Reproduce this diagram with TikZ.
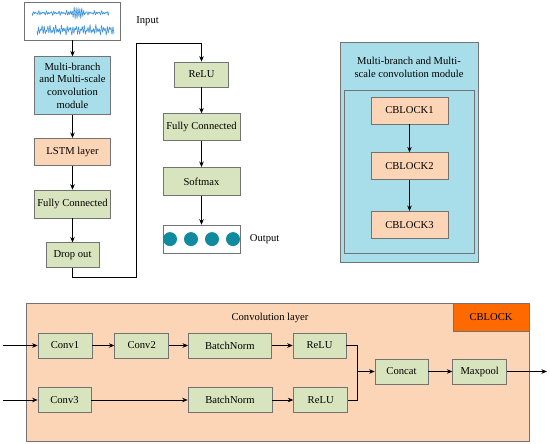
\documentclass[tikz,border=0pt]{standalone}
\usepackage{fontspec}
\setmainfont{Liberation Serif}
\usepackage{xcolor}
\definecolor{ModBlue}{HTML}{A8DEEA}
\definecolor{BlockPeach}{HTML}{FBD5B5}
\definecolor{LayerGreen}{HTML}{D7E4BD}
\definecolor{TagOrange}{HTML}{FF6A00}
\definecolor{DotTeal}{HTML}{0F8A9E}
\definecolor{WaveBlue}{HTML}{3A90D8}
\usepackage{tikz}
\usetikzlibrary{arrows.meta, positioning}

\begin{document}
\begin{tikzpicture}[
  x=1pt, y=-1pt,
  font=\fontsize{10.6}{12.8}\selectfont,
  box/.style={
    rectangle, draw=black!55, line width=0.7pt,
    inner sep=1pt, align=center
  },
  gbox/.style={box, fill=LayerGreen, minimum height=25pt},
  pbox/.style={box, fill=BlockPeach, minimum height=27pt},
  arr/.style={-{Stealth[length=5.5pt, width=4.5pt]}, line width=0.7pt},
  wire/.style={line width=0.7pt},
  wave/.style={WaveBlue, line width=0.55pt},
]
\useasboundingbox (0,0) rectangle (550,444);

% main column
\node[box, minimum width=96pt, minimum height=38pt] (input) at (72.5,21) {};
\node[box, fill=ModBlue, minimum width=76pt, minimum height=58pt,
      below=16pt of input] (mbm)
      {Multi-branch\\ and Multi-scale\\ convolution\\ module};
\node[pbox, minimum width=76pt, below=23pt of mbm]  (lstm) {LSTM layer};
\node[gbox, minimum width=76pt, minimum height=28pt,
      below=24pt of lstm] (fc1)  {Fully Connected};
\node[gbox, minimum width=53pt, below=24pt of fc1]  (drop) {Drop out};
\node[right=12pt of input] (inlbl) {Input};

\draw[wave] plot[domain=0:10, samples=320]
  ({32+7.7*\x}, {13 + 1.0*sin(1500*\x) + 0.8*sin(1100*\x+30) + 0.6*sin(700*\x+10)
   + 4.5*sin(1430*\x)/(1+4*(\x-6)*(\x-6)*(\x-6)*(\x-6))});
\draw[wave] plot[domain=0:10, samples=320]
  ({37+7.7*\x}, {30 + 2.4*sin(1450*\x) + 1.8*sin(970*\x+50) + 1.2*sin(410*\x)});

\node[gbox, minimum width=54pt] (relu) at (201.5,74.5) {ReLU};
\node[gbox, minimum width=77pt, minimum height=27pt,
      below=26pt of relu] (fc2)  {Fully Connected};
\node[gbox, minimum width=77pt, minimum height=28pt,
      below=26pt of fc2]  (soft) {Softmax};
\node[box, minimum width=77pt, minimum height=28pt,
      below=29pt of soft] (outp) {};
\node[right=6pt of outp] (outlbl) {Output};
\foreach \dx in {-31.5,-10.5,10.5,31.5}
  \fill[DotTeal] ([xshift=\dx pt]outp.center) circle (7pt);

\coordinate (turn1) at (136,277);
\coordinate (turn2) at (136,43);

\draw[arr]  (input) -- (mbm);
\draw[arr]  (mbm)   -- (lstm);
\draw[arr]  (lstm)  -- (fc1);
\draw[arr]  (fc1)   -- (drop);
\draw[arr]  (drop.south) |- (turn1) -- (turn2) -| (relu.north);
\draw[arr]  (relu)  -- (fc2);
\draw[arr]  (fc2)   -- (soft);
\draw[arr]  (soft)  -- (outp);

% module detail
\node[box, fill=ModBlue, minimum width=138pt, minimum height=220pt]
      (mbmod) at (409,152) {};
\node[align=center] (modlbl) at (409,67.5)
      {Multi-branch and Multi-\\scale convolution module};
\node[box, minimum width=130pt, minimum height=163pt] (inner) at (409,171.5) {};
\node[pbox, minimum width=77pt] (cb1) at (409.5,110.5) {CBLOCK1};
\node[pbox, minimum width=77pt, below=28pt of cb1] (cb2) {CBLOCK2};
\node[pbox, minimum width=77pt, below=31pt of cb2] (cb3) {CBLOCK3};

\draw[arr]  (cb1) -- (cb2);
\draw[arr]  (cb2) -- (cb3);

% cblock
\node[box, fill=BlockPeach, minimum width=503pt, minimum height=138pt]
      (cblock) at (277.5,372) {};
\node[box, fill=TagOrange, minimum width=76pt, minimum height=28pt,
      anchor=north east] (tag) at (cblock.north east) {CBLOCK};
\node (convlbl) at (270,318) {Convolution layer};

\node[gbox, minimum width=54pt] (conv1) at (65,345.5) {Conv1};
\node[gbox, minimum width=54pt, right=22pt of conv1] (conv2) {Conv2};
\node[gbox, minimum width=83pt, right=19pt of conv2] (bn1)   {BatchNorm};
\node[gbox, minimum width=53pt, right=21pt of bn1]   (relu1) {ReLU};

\node[gbox, minimum width=53pt] (conv3) at (64.5,400) {Conv3};
\node[gbox, minimum width=84pt] (bn2)   at (230,400)  {BatchNorm};
\node[gbox, minimum width=54pt, right=21pt of bn2]   (relu2) {ReLU};

\node[gbox, minimum width=53pt] (concat) at (401.5,371.5) {Concat};
\node[gbox, minimum width=54pt, right=24pt of concat] (maxp) {Maxpool};

\coordinate (in1)   at (3,345.5);
\coordinate (in2)   at (3,400);
\coordinate (merge) at (357,371.5);
\coordinate (out)   at (547,371.5);

\draw[arr]  (in1)   -- (conv1);
\draw[arr]  (conv1) -- (conv2);
\draw[arr]  (conv2) -- (bn1);
\draw[arr]  (bn1)   -- (relu1);
\draw[arr]  (in2)   -- (conv3);
\draw[arr]  (conv3) -- (bn2);
\draw[arr]  (bn2)   -- (relu2);
\draw[wire] (relu1.east) -| (merge);
\draw[wire] (relu2.east) -| (merge);
\draw[arr]  (merge) -- (concat);
\draw[arr]  (concat) -- (maxp);
\draw[arr]  (maxp)  -- (out);

\end{tikzpicture}
\end{document}
